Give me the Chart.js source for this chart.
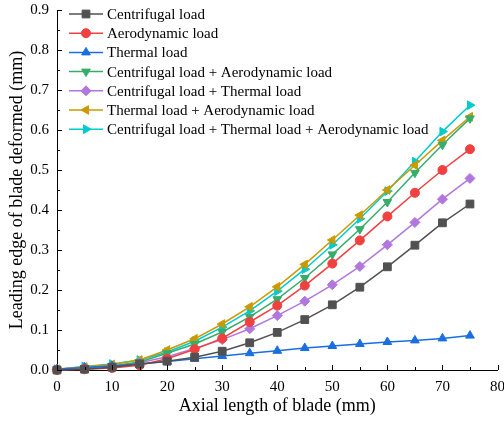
<!DOCTYPE html>
<html>
<head>
<meta charset="utf-8">
<script src="https://cdn.jsdelivr.net/npm/chart.js@4.4.0/dist/chart.umd.min.js"></script>
<style>
  body { margin: 0; background: #ffffff; }
  #wrap { width: 504px; height: 428px; }
</style>
</head>
<body>
<div id="wrap"><canvas id="bladeChart" width="504" height="428"></canvas></div>
<script>
// Axial positions (mm)
const axialLength = [0, 5, 10, 15, 20, 25, 30, 35, 40, 45, 50, 55, 60, 65, 70, 75];

// Leading edge deformation (mm) for each load case
const centrifugal = [0, 0.002, 0.007, 0.015, 0.022, 0.032, 0.047, 0.068, 0.094, 0.126, 0.163, 0.207, 0.258, 0.312, 0.368, 0.415];
const aerodynamic = [0, 0.002, 0.005, 0.012, 0.028, 0.052, 0.079, 0.120, 0.161, 0.211, 0.266, 0.324, 0.384, 0.443, 0.500, 0.552];
const thermal = [0.002, 0.006, 0.010, 0.015, 0.021, 0.028, 0.035, 0.042, 0.048, 0.055, 0.060, 0.065, 0.070, 0.074, 0.079, 0.086];
const centAero = [0, 0.005, 0.010, 0.020, 0.042, 0.065, 0.095, 0.133, 0.177, 0.230, 0.289, 0.352, 0.420, 0.493, 0.563, 0.629];
const centThermal = [0.002, 0.006, 0.010, 0.018, 0.033, 0.054, 0.076, 0.103, 0.136, 0.172, 0.213, 0.259, 0.313, 0.369, 0.427, 0.479];
const thermalAero = [0.002, 0.008, 0.014, 0.025, 0.050, 0.078, 0.115, 0.158, 0.208, 0.264, 0.325, 0.387, 0.450, 0.512, 0.574, 0.633];
const allLoads = [0.002, 0.009, 0.015, 0.025, 0.045, 0.072, 0.107, 0.148, 0.197, 0.252, 0.313, 0.378, 0.447, 0.521, 0.596, 0.662];

const seriesNames = [
  "Centrifugal load",
  "Aerodynamic load",
  "Thermal load",
  "Centrifugal load + Aerodynamic load",
  "Centrifugal load + Thermal load",
  "Thermal load + Aerodynamic load",
  "Centrifugal load + Thermal load + Aerodynamic load",
];
const seriesValues = [centrifugal, aerodynamic, thermal, centAero, centThermal, thermalAero, allLoads];

const colors = ["#515151", "#F14040", "#1A6FDF", "#37AD6B", "#B177DE", "#CC9900", "#00CBCC"];
const markers = [
  { style: "rect", rotation: 0, radius: 5.5 },
  { style: "circle", rotation: 0, radius: 4.5 },
  { style: "triangle", rotation: 0, radius: 5 },
  { style: "triangle", rotation: 180, radius: 5 },
  { style: "rectRot", rotation: 0, radius: 5 },
  { style: "triangle", rotation: 270, radius: 5 },
  { style: "triangle", rotation: 90, radius: 5 },
];

const FONT = "'Liberation Serif', 'Times New Roman', serif";

const datasets = seriesNames.map((name, i) => ({
  label: name,
  data: axialLength.map((x, j) => ({ x: x, y: seriesValues[i][j] })),
  borderColor: colors[i],
  backgroundColor: colors[i],
  borderWidth: 1.5,
  pointStyle: markers[i].style,
  rotation: markers[i].rotation,
  pointRadius: markers[i].radius,
  pointBorderWidth: 1,
  tension: 0,
  clip: false,
}));

function isMajor(v, step) {
  const q = v / step;
  return Math.abs(q - Math.round(q)) < 1e-6;
}

// inward tick marks like the original plot
const innerTicks = {
  id: "innerTicks",
  afterDatasetsDraw(chart) {
    const ctx = chart.ctx;
    const area = chart.chartArea;
    ctx.save();
    ctx.strokeStyle = "#000000";
    ctx.lineWidth = 1;
    const xs = chart.scales.x;
    xs.ticks.forEach((t) => {
      const px = Math.round(xs.getPixelForValue(t.value)) + 0.5;
      const len = isMajor(t.value, 10) ? 5 : 3;
      ctx.beginPath();
      ctx.moveTo(px, area.bottom);
      ctx.lineTo(px, area.bottom - len);
      ctx.stroke();
    });
    const ys = chart.scales.y;
    ys.ticks.forEach((t) => {
      const py = Math.round(ys.getPixelForValue(t.value)) + 0.5;
      const len = isMajor(t.value, 0.1) ? 5 : 3;
      ctx.beginPath();
      ctx.moveTo(area.left, py);
      ctx.lineTo(area.left + len, py);
      ctx.stroke();
    });
    ctx.restore();
  },
};

// legend with line + marker, placed inside the plot
const lineLegend = {
  id: "lineLegend",
  afterDraw(chart) {
    const ctx = chart.ctx;
    const x0 = 69, x1 = 103, textX = 107;
    ctx.save();
    ctx.font = "15px " + FONT;
    ctx.textBaseline = "middle";
    chart.data.datasets.forEach((ds, i) => {
      const y = 14 + i * 19.2;
      ctx.strokeStyle = ds.borderColor;
      ctx.fillStyle = ds.backgroundColor;
      ctx.lineWidth = 1.5;
      ctx.beginPath();
      ctx.moveTo(x0, y);
      ctx.lineTo(x1, y);
      ctx.stroke();
      ctx.lineWidth = 1;
      Chart.helpers.drawPoint(ctx, {
        pointStyle: ds.pointStyle,
        rotation: ds.rotation,
        radius: ds.pointRadius,
        borderWidth: 1,
      }, (x0 + x1) / 2, y);
      ctx.fillStyle = "#000000";
      ctx.fillText(ds.label, textX, y + 1);
    });
    ctx.restore();
  },
};

new Chart(document.getElementById("bladeChart"), {
  type: "line",
  data: { datasets: datasets },
  options: {
    responsive: false,
    animation: false,
    layout: { padding: { left: 0, right: 6, top: 10, bottom: 0 } },
    plugins: {
      legend: { display: false },
      tooltip: { enabled: false },
    },
    scales: {
      x: {
        type: "linear",
        min: 0,
        max: 80,
        grid: { display: false, drawTicks: false },
        border: { display: true, color: "#000000", width: 1 },
        ticks: {
          stepSize: 5,
          autoSkip: false,
          maxRotation: 0,
          padding: 8,
          color: "#000000",
          font: { family: FONT, size: 15 },
          callback: (v) => (isMajor(v, 10) ? String(v) : ""),
        },
        title: {
          display: true,
          text: "Axial length of blade (mm)",
          color: "#000000",
          font: { family: FONT, size: 18 },
          padding: { top: 0, bottom: 11 },
        },
        afterFit(scale) {
          scale.height = 58;
          scale.paddingRight = 0;
          scale.paddingLeft = 0;
        },
      },
      y: {
        type: "linear",
        min: 0,
        max: 0.9,
        grid: { display: false, drawTicks: false },
        border: { display: true, color: "#000000", width: 1 },
        ticks: {
          stepSize: 0.05,
          autoSkip: false,
          padding: 8,
          color: "#000000",
          font: { family: FONT, size: 15 },
          callback: (v) => (isMajor(v, 0.1) ? v.toFixed(1) : ""),
        },
        title: {
          display: true,
          text: "Leading edge of blade deformed (mm)",
          color: "#000000",
          font: { family: FONT, size: 18 },
          padding: { top: 6, bottom: 0 },
        },
        afterFit(scale) {
          scale.width = 57;
          scale.paddingTop = 0;
          scale.paddingBottom = 0;
        },
      },
    },
  },
  plugins: [innerTicks, lineLegend],
});
</script>
</body>
</html>
